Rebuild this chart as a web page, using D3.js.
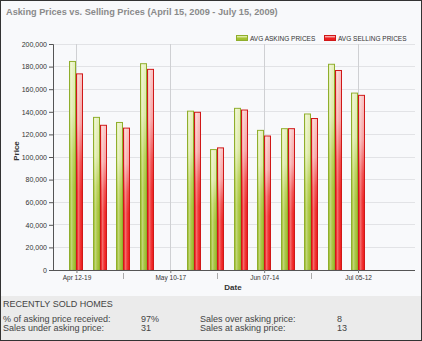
<!DOCTYPE html>
<html><head><meta charset="utf-8">
<script src="https://cdn.jsdelivr.net/npm/d3@7/dist/d3.min.js"></script>
<style>html,body{margin:0;padding:0;overflow:hidden;background:#fff}svg{display:block}</style>
</head><body>
<script>
const weeks = ["2009-04-12","2009-04-19","2009-04-26","2009-05-03","2009-05-17","2009-05-24","2009-05-31","2009-06-07","2009-06-14","2009-06-21","2009-06-28","2009-07-05"];
const asking = [185000,135500,131000,183000,141000,107000,143500,124000,125500,138500,182500,157000];
const selling = [174000,128500,126000,178000,140000,108500,142000,119000,125500,134500,177000,155000];
const majorTicks = ["2009-04-12","2009-05-10","2009-06-07","2009-07-05"];
const majorLabels = ["Apr 12-19","May 10-17","Jun 07-14","Jul 05-12"];
const minorTicks = ["2009-04-26","2009-05-24","2009-06-21"];
const yTicks = [0,20000,40000,60000,80000,100000,120000,140000,160000,180000,200000];
const seriesNames = ["AVG ASKING PRICES","AVG SELLING PRICES"];
const statsLeft = [["% of asking price received:","97%"],["Sales under asking price:","31"]];
const statsRight = [["Sales over asking price:","8"],["Sales at asking price:","13"]];

const W=422,H=341;
const parse=d3.timeParse("%Y-%m-%d");
const svg=d3.select("body").append("svg").attr("width",W).attr("height",H);
const defs=svg.append("defs");
function grad(id,stops){
  const g=defs.append("linearGradient").attr("id",id).attr("x1",0).attr("y1",0).attr("x2",0).attr("y2",1);
  stops.forEach(s=>g.append("stop").attr("offset",s[0]).attr("stop-color",s[1]));
}
grad("gGreen",[[0,"#e6f0bc"],[0.25,"#dbe8a0"],[0.45,"#b6cf4e"],[0.6,"#a5c334"],[1,"#9cbd2c"]]);
grad("gRed",[[0,"#f9c4c4"],[0.25,"#f7a0a0"],[0.45,"#f04444"],[0.6,"#ed2222"],[1,"#ee1a1a"]]);
const hl=defs.append("linearGradient").attr("id","hl").attr("x1",0).attr("y1",0).attr("x2",1).attr("y2",0);
[[0,0],[0.35,0.4],[0.55,0.15],[1,0]].forEach(s=>hl.append("stop").attr("offset",s[0]).attr("stop-color","#fff").attr("stop-opacity",s[1]));

// backgrounds
svg.append("rect").attr("x",0).attr("y",0).attr("width",W).attr("height",296).attr("fill","#f8f9fb");
svg.append("rect").attr("x",0).attr("y",296).attr("width",W).attr("height",H-296).attr("fill","#ebebeb");

svg.append("text").attr("x",6).attr("y",15).attr("font-family","Liberation Sans, Arial, sans-serif")
  .attr("font-size",9.2).attr("font-weight","bold").attr("fill","#8a8a8a")
  .text("Asking Prices vs. Selling Prices (April 15, 2009 - July 15, 2009)");

const x=d3.scaleTime().domain([parse("2009-04-05"),parse("2009-07-22")]).range([53,415]);
const y=d3.scaleLinear().domain([0,200000]).range([270,44]);

// horizontal grid
svg.append("g").selectAll("line").data(yTicks.slice(1)).join("line")
  .attr("x1",53).attr("x2",415).attr("y1",d=>y(d)).attr("y2",d=>y(d))
  .attr("stroke","#e2e3e6").attr("stroke-width",1).attr("shape-rendering","crispEdges");
// vertical grid at major ticks
svg.append("g").selectAll("line").data(majorTicks).join("line")
  .attr("x1",d=>Math.round(x(parse(d)))+0.5).attr("x2",d=>Math.round(x(parse(d)))+0.5)
  .attr("y1",y(200000)).attr("y2",270).attr("stroke","#cfd0d3");

// bars
const bw=7;
const data=weeks.map((w,i)=>({d:parse(w),a:asking[i],s:selling[i]}));
const bars=svg.append("g");
function drawBar(g,x0,v,fill,stroke){
  g.append("rect").attr("x",x0+0.5).attr("y",y(v)+0.5).attr("width",bw-1).attr("height",270-y(v)-0.5)
    .attr("fill",`url(#${fill})`).attr("stroke",stroke).attr("stroke-width",1);
  g.append("rect").attr("x",x0+1).attr("y",y(v)+1).attr("width",bw-2).attr("height",Math.max(0,270-y(v)-1))
    .attr("fill","url(#hl)");
}
data.forEach(d=>{
  const cx=Math.round(x(d.d));
  drawBar(bars,cx-bw,d.a,"gGreen","#8fae2c");
  drawBar(bars,cx,d.s,"gRed","#d01818");
});

// axes
const yAxis=svg.append("g").attr("transform","translate(53,0)")
  .call(d3.axisLeft(y).tickValues(yTicks).tickFormat(d3.format(",")).tickSize(4).tickPadding(2));
yAxis.select(".domain").attr("stroke","#555");
yAxis.selectAll(".tick line").attr("stroke","#555");
yAxis.selectAll("text").attr("font-family","Liberation Sans, Arial, sans-serif").attr("font-size",7).attr("fill","#333");

svg.append("line").attr("x1",53).attr("x2",415).attr("y1",270.5).attr("y2",270.5).attr("stroke","#555");
const xAxis=svg.append("g").attr("transform","translate(0,270)")
  .call(d3.axisBottom(x).tickValues(majorTicks.map(parse)).tickFormat((d,i)=>majorLabels[i]).tickSize(3).tickPadding(2));
xAxis.select(".domain").remove();
xAxis.selectAll(".tick line").attr("stroke","#777");
xAxis.selectAll("text").attr("font-family","Liberation Sans, Arial, sans-serif").attr("font-size",6.5).attr("fill","#333");
svg.append("g").selectAll("line").data(minorTicks).join("line")
  .attr("x1",d=>Math.round(x(parse(d)))+0.5).attr("x2",d=>Math.round(x(parse(d)))+0.5)
  .attr("y1",273).attr("y2",279).attr("stroke","#aaa");

svg.append("text").attr("transform","translate(19,151) rotate(-90)").attr("text-anchor","middle")
  .attr("font-family","Liberation Sans, Arial, sans-serif").attr("font-size",8).attr("font-weight","bold").attr("fill","#333").text("Price");
svg.append("text").attr("x",233).attr("y",290).attr("text-anchor","middle")
  .attr("font-family","Liberation Sans, Arial, sans-serif").attr("font-size",8).attr("font-weight","bold").attr("fill","#333").text("Date");

// legend
const leg=svg.append("g");
[[236,"gGreen","#8fae2c",250],[324,"gRed","#d01818",338]].forEach((l,i)=>{
  leg.append("rect").attr("x",l[0]+0.5).attr("y",35.5).attr("width",11).attr("height",5).attr("fill",`url(#${l[1]})`).attr("stroke",l[2]);
  leg.append("text").attr("x",l[3]).attr("y",41).attr("font-family","Liberation Sans, Arial, sans-serif")
    .attr("font-size",6.5).attr("fill","#333").text(seriesNames[i]);
});

// stats
const font="Liberation Sans, Arial, sans-serif";
svg.append("text").attr("x",3).attr("y",307).attr("font-family",font).attr("font-size",9).attr("fill","#444").text("RECENTLY SOLD HOMES");
statsLeft.forEach((r,i)=>{
  svg.append("text").attr("x",3).attr("y",322+i*9).attr("font-family",font).attr("font-size",9).attr("fill","#444").text(r[0]);
  svg.append("text").attr("x",141).attr("y",322+i*9).attr("font-family",font).attr("font-size",9).attr("fill","#444").text(r[1]);
});
statsRight.forEach((r,i)=>{
  svg.append("text").attr("x",200).attr("y",322+i*9).attr("font-family",font).attr("font-size",9).attr("fill","#444").text(r[0]);
  svg.append("text").attr("x",337).attr("y",322+i*9).attr("font-family",font).attr("font-size",9).attr("fill","#444").text(r[1]);
});

svg.append("rect").attr("x",0.5).attr("y",0.5).attr("width",W-1).attr("height",H-1).attr("fill","none").attr("stroke","#333");
</script>
</body></html>
